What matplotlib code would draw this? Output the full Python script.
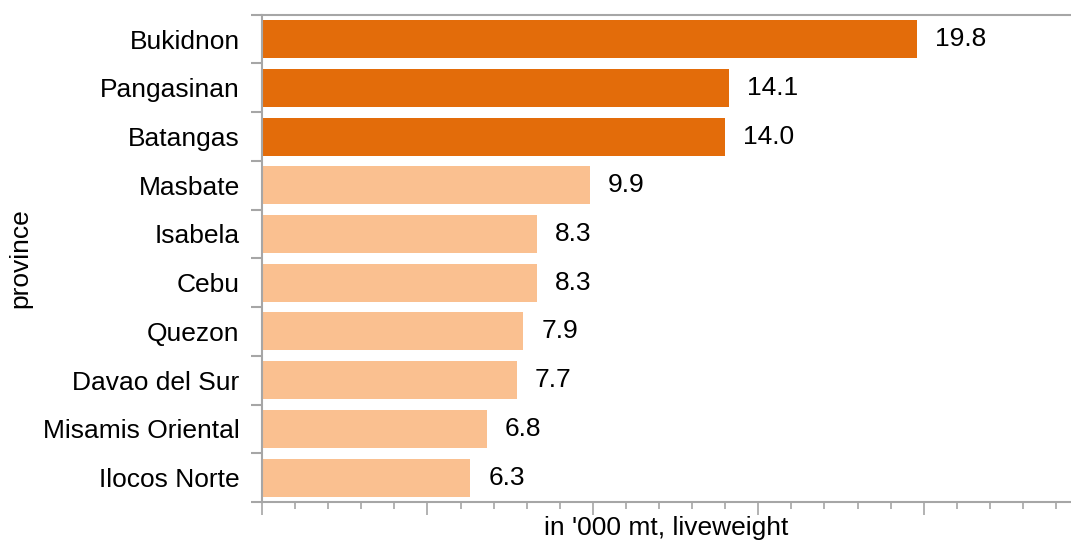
import matplotlib.pyplot as plt
from matplotlib.ticker import MultipleLocator

plt.rcParams['font.family'] = ['Liberation Sans', 'DejaVu Sans']

provinces = ["Bukidnon", "Pangasinan", "Batangas", "Masbate", "Isabela",
             "Cebu", "Quezon", "Davao del Sur", "Misamis Oriental", "Ilocos Norte"]
volumes = [19.8, 14.1, 14.0, 9.9, 8.3, 8.3, 7.9, 7.7, 6.8, 6.3]
top_n = 3

dark = "#E36C0A"
light = "#FAC090"
grey = "#A6A6A6"
fs = 19

fig = plt.figure(figsize=(10.71, 5.42), dpi=100)
ax = fig.add_axes([0.2446, 0.0738, 0.7554, 0.8991])

pos = list(range(len(provinces)))
colors = [dark if i < top_n else light for i in pos]
ax.barh(pos, volumes, height=0.78, color=colors, zorder=2)

for y, v in zip(pos, volumes):
    ax.annotate(f"{v:.1f}", (v, y), xytext=(18, 0), textcoords="offset pixels",
                va="center", ha="left", fontsize=fs, color="black")

ax.set_ylim(len(provinces) - 0.5, -0.5)
ax.set_xlim(0, 24.45)

# category labels sit between the boundary ticks
ax.set_yticks(pos)
ax.set_yticklabels(provinces, fontsize=fs)
ax.tick_params(axis="y", which="major", length=0, pad=16)
ax.set_yticks([p - 0.5 for p in pos] + [len(provinces) - 0.5], minor=True)
ax.tick_params(axis="y", which="minor", length=8, width=1.5, color=grey)

ax.xaxis.set_major_locator(MultipleLocator(5))
ax.xaxis.set_minor_locator(MultipleLocator(1))
ax.tick_params(axis="x", which="major", length=9, width=1.2, color=grey, labelbottom=False)
ax.tick_params(axis="x", which="minor", length=5, width=1.2, color=grey)

for side in ["top", "bottom", "left"]:
    ax.spines[side].set_color(grey)
    ax.spines[side].set_linewidth(1.5)
ax.spines["right"].set_visible(False)

ax.set_xlabel("in '000 mt, liveweight", fontsize=fs, labelpad=1)
ax.set_ylabel("province", fontsize=fs, labelpad=8)

fig.savefig("out.png", dpi=100)
